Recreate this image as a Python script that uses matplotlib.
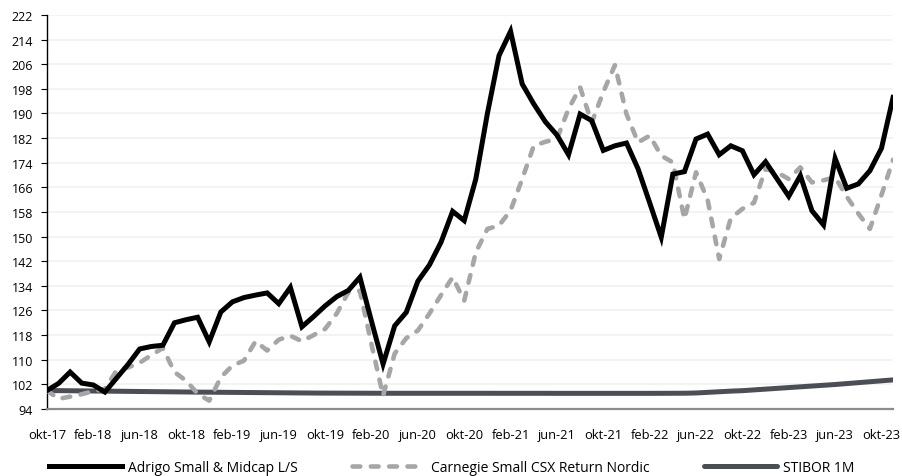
import numpy as np
import matplotlib
matplotlib.use("Agg")
import matplotlib.pyplot as plt

# Index (okt-17 = 100), monthly okt-17 .. nov-23
adrigo = [100.0, 102.3, 106.0, 102.4, 101.8, 99.5, 104.0, 108.5, 113.5, 114.3,
          114.7, 122.0, 123.0, 123.8, 115.8, 125.5, 128.8, 130.2, 131.0, 131.7,
          128.2, 133.5, 120.7, 124.0, 127.5, 130.5, 132.5, 136.8, 122.5, 108.6,
          121.0, 125.4, 135.5, 140.8, 148.2, 158.2, 155.2, 168.7, 190.0, 208.8,
          216.7, 199.6, 193.1, 187.3, 183.0, 176.6, 189.8, 187.7, 178.0, 179.5,
          180.4, 172.0, 161.0, 149.8, 170.3, 171.1, 181.7, 183.3, 176.6, 179.5,
          177.9, 170.1, 174.3, 168.7, 163.1, 169.8, 158.4, 153.8, 175.4, 165.7,
          167.1, 171.4, 178.7, 195.2]

carnegie = [100.0, 97.3, 98.0, 98.8, 99.8, 100.5, 106.5, 107.5, 109.0, 111.5,
            113.8, 106.0, 103.2, 99.0, 96.7, 104.3, 108.1, 109.7, 116.0, 113.0,
            116.5, 117.8, 116.0, 118.0, 120.0, 125.0, 131.9, 132.4, 115.0, 98.3,
            112.0, 117.0, 119.5, 125.0, 131.0, 136.8, 129.2, 144.9, 152.5, 153.6,
            158.5, 168.7, 179.5, 180.8, 181.7, 191.5, 198.5, 187.0, 197.0, 205.7,
            189.8, 180.6, 182.8, 176.3, 174.1, 155.7, 170.9, 162.0, 142.7, 156.0,
            159.0, 161.0, 172.0, 170.9, 168.7, 172.5, 167.6, 168.3, 169.3, 163.0,
            157.5, 152.5, 163.5, 175.0]

stibor = [100.0, 99.96, 99.92, 99.88, 99.84, 99.80, 99.76, 99.72, 99.68, 99.64,
          99.60, 99.56, 99.52, 99.48, 99.45, 99.42, 99.39, 99.36, 99.33, 99.30,
          99.27, 99.24, 99.21, 99.18, 99.16, 99.15, 99.14, 99.13, 99.12, 99.11,
          99.10, 99.10, 99.10, 99.10, 99.10, 99.10, 99.10, 99.10, 99.10, 99.09,
          99.09, 99.09, 99.09, 99.09, 99.08, 99.08, 99.08, 99.08, 99.08, 99.08,
          99.08, 99.08, 99.08, 99.09, 99.10, 99.12, 99.20, 99.40, 99.60, 99.80,
          99.95, 100.20, 100.45, 100.70, 100.95, 101.20, 101.45, 101.70, 101.95, 102.25,
          102.55, 102.85, 103.15, 103.45]

tick_labels = ["okt-17", "feb-18", "jun-18", "okt-18", "feb-19", "jun-19", "okt-19",
               "feb-20", "jun-20", "okt-20", "feb-21", "jun-21", "okt-21", "feb-22",
               "jun-22", "okt-22", "feb-23", "jun-23", "okt-23"]

plt.rcParams['font.family'] = ['Open Sans', 'DejaVu Sans']

x = np.arange(len(adrigo))

fig = plt.figure(figsize=(9.03, 4.77), dpi=100)
ax = fig.add_axes([0.052, 0.1405, 0.937, 0.826])

ax.plot(x, stibor, color="#4b4f55", lw=3.6, label="STIBOR 1M", zorder=3,
        solid_capstyle="round")
ax.plot(x, carnegie, color="#a6a6a6", lw=3.3, label="Carnegie Small CSX Return Nordic",
        dashes=(1.7, 2.3), dash_capstyle="round", zorder=4)
ax.plot(x, adrigo, color="black", lw=3.6, label="Adrigo Small & Midcap L/S", zorder=5,
        solid_joinstyle="miter")

ax.set_xlim(0, len(adrigo) - 1)
ax.set_ylim(94, 222)
ax.set_yticks(np.arange(94, 223, 8))
ax.set_xticks(np.arange(0, len(adrigo), 4))
ax.set_xticklabels(tick_labels)

ax.grid(axis="y", color="#f2f2f2", lw=1.3, zorder=0)
for s in ["top", "right"]:
    ax.spines[s].set_visible(False)
ax.spines["left"].set_color("black")
ax.spines["left"].set_linewidth(1.0)
ax.spines["bottom"].set_color("#8c8c8c")
ax.spines["bottom"].set_linewidth(1.6)

ax.tick_params(axis="y", length=4, width=0.8, pad=6, labelsize=9, colors="black")
ax.tick_params(axis="x", length=0, pad=14, labelsize=9.3)

handles, labels = ax.get_legend_handles_labels()
order = [2, 1, 0]
fig.legend([handles[i] for i in order], [labels[i] for i in order],
           loc="center", bbox_to_anchor=(0.5, 0.018), ncol=3, frameon=False,
           fontsize=10, handlelength=5.3, columnspacing=3.9, handletextpad=0.4)

fig.savefig("out.png", dpi=100)
